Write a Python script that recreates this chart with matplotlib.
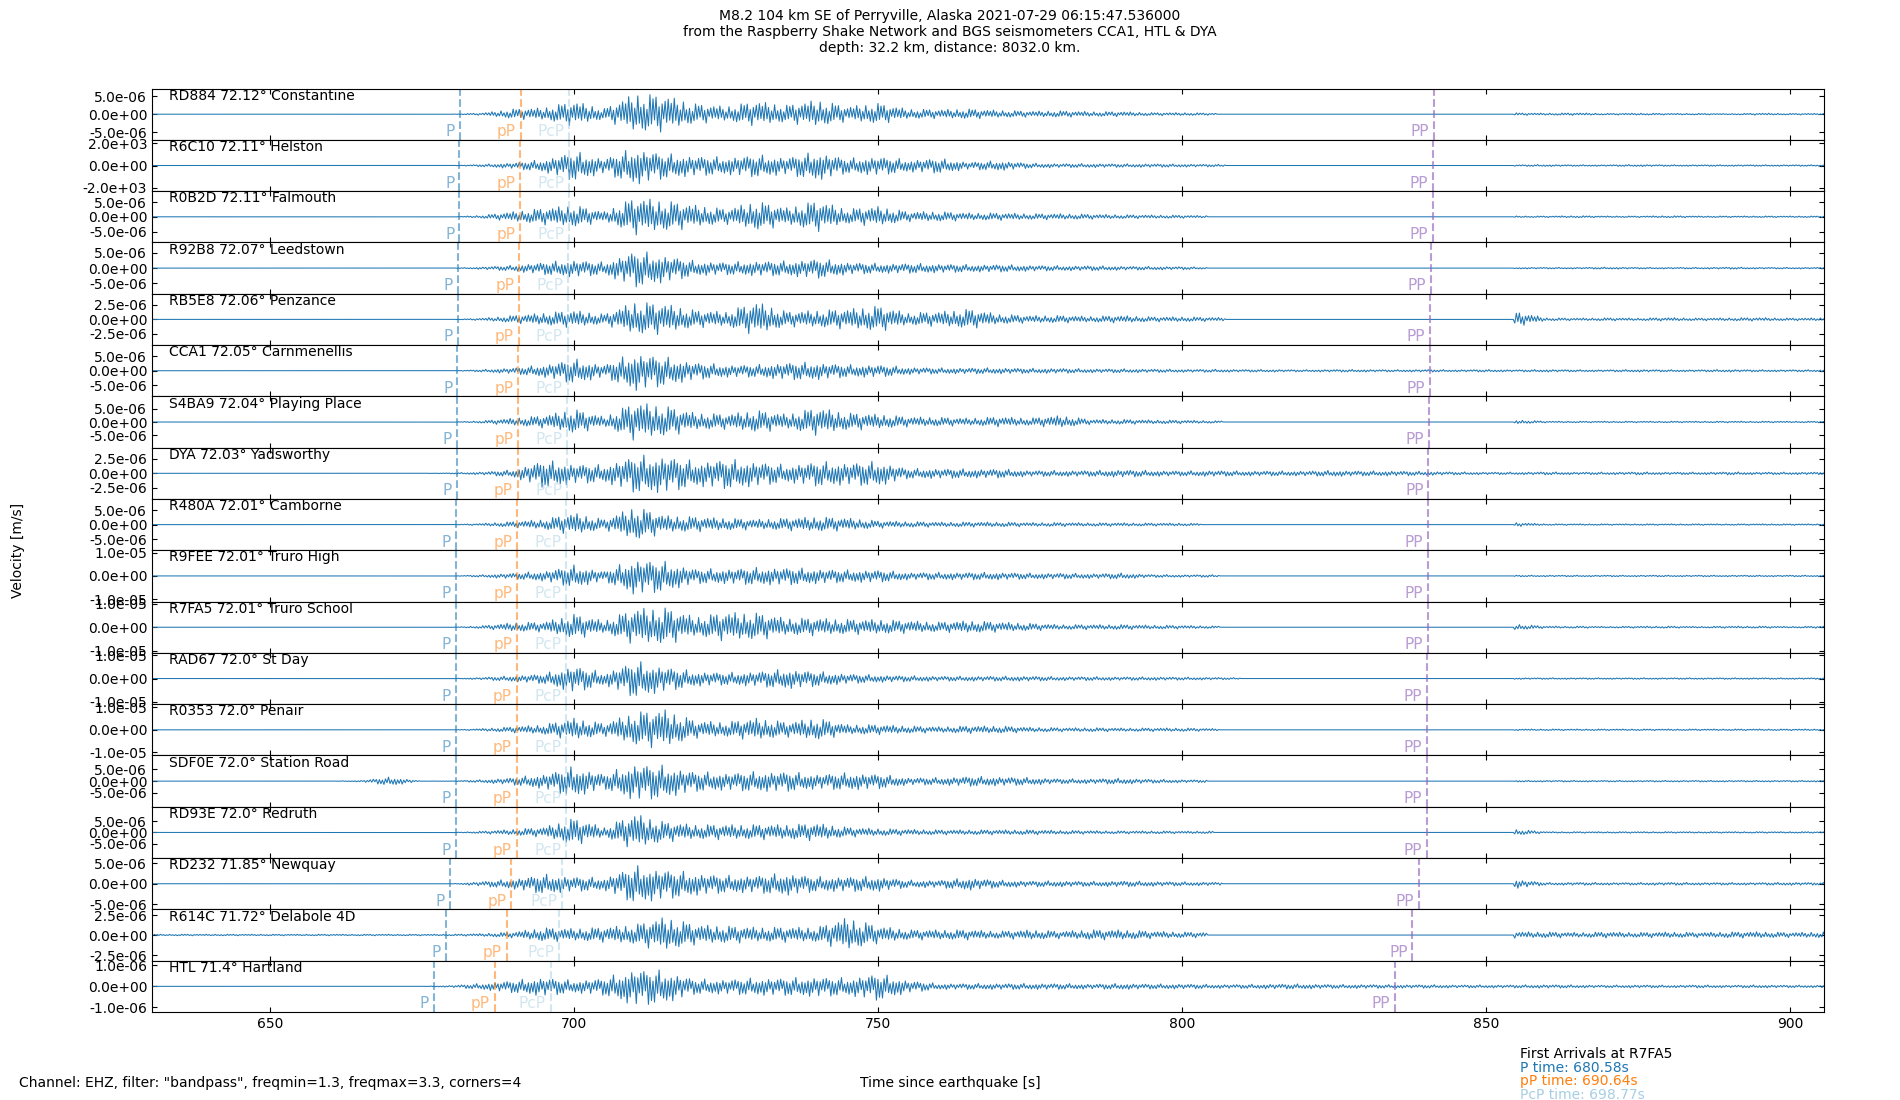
import numpy as np
import matplotlib
matplotlib.use("Agg")
import matplotlib.pyplot as plt

# station data, top to bottom
stations = ["RD884", "R6C10", "R0B2D", "R92B8", "RB5E8", "CCA1", "S4BA9", "DYA", "R480A",
            "R9FEE", "R7FA5", "RAD67", "R0353", "SDF0E", "RD93E", "RD232", "R614C", "HTL"]
dists = [72.12, 72.11, 72.11, 72.07, 72.06, 72.05, 72.04, 72.03, 72.01,
         72.01, 72.01, 72.0, 72.0, 72.0, 72.0, 71.85, 71.72, 71.4]
places = ["Constantine", "Helston", "Falmouth", "Leedstown", "Penzance", "Carnmenellis",
          "Playing Place", "Yadsworthy", "Camborne", "Truro High", "Truro School", "St Day",
          "Penair", "Station Road", "Redruth", "Newquay", "Delabole 4D", "Hartland"]

# arrival times [s]
p_times = [681.20, 681.14, 681.14, 680.92, 680.86, 680.80, 680.75, 680.69, 680.58,
           680.58, 680.58, 680.52, 680.52, 680.52, 680.52, 679.63, 678.91, 676.95]
pP_times = [691.26, 691.20, 691.20, 690.98, 690.92, 690.86, 690.81, 690.75, 690.64,
            690.64, 690.64, 690.58, 690.58, 690.58, 690.58, 689.69, 688.97, 687.00]
pcp_times = [699.23, 699.19, 699.19, 699.02, 698.98, 698.94, 698.90, 698.85, 698.77,
             698.77, 698.77, 698.73, 698.73, 698.73, 698.73, 698.10, 697.55, 696.20]
PP_times = [841.4, 841.3, 841.3, 840.95, 840.85, 840.75, 840.65, 840.55, 840.4,
            840.4, 840.4, 840.3, 840.3, 840.3, 840.3, 839.0, 837.9, 835.1]

# y axis: tick value and half range per panel
tick_vals = [5e-6, 2e3, 5e-6, 5e-6, 2.5e-6, 5e-6, 5e-6, 2.5e-6, 5e-6,
             1e-5, 1e-5, 1e-5, 1e-5, 5e-6, 5e-6, 5e-6, 2.5e-6, 1e-6]
y_max = [7.2e-6, 2.33e3, 8.7e-6, 8.4e-6, 4.4e-6, 8.9e-6, 9.6e-6, 4.4e-6, 8.9e-6,
         1.1e-5, 1.1e-5, 1.1e-5, 1.14e-5, 1.1e-5, 1.15e-5, 6.2e-6, 3.2e-6, 1.23e-6]

# data gaps (start, end) in s, None = continuous record
gaps = [(805.5, 854.7), (807, 854.7), (804, 854.7), (804, 854.7), (807, 854.7), None,
        (806.7, 854.7), None, (803, 854.7), (806, 854.7), (806, 854.7), (809.5, 854.7),
        (806, 854.7), (804, 854.7), (805, 854.7), (806.7, 854.7), (804, 854.7), None]

# amplitude envelopes (fraction of panel range), every 5 s from 630 s to 905 s
env_times = np.arange(630, 906, 5)
Z10 = [0] * 10
Z8 = [0] * 8
envelopes = [
    Z10 + [0, .05, .2, .25, .5, .22, .8, .72, .4, .3, .5, .35, .55, .3, .42, .2, .18, .2, .15, .12, .13, .1, .1, .06, .06, .04, .02]
    + Z8 + [.05, .04, .05, .03, .04, .03, .03, .02, .04, .03, .03],
    Z10 + [0, .05, .12, .25, .6, .3, .75, .5, .4, .35, .45, .35, .58, .3, .38, .25, .3, .15, .2, .1, .08, .08, .07, .07, .06, .05, .04]
    + Z8 + [.03, .04, .03, .03, .04, .03, .03, .03, .03, .03, .03],
    Z10 + [0, .06, .2, .33, .45, .2, .75, .62, .45, .3, .6, .35, .62, .3, .4, .2, .2, .15, .15, .12, .12, .1, .08, .07, .06, .04, 0]
    + Z8 + [.03, .03, .04, .03, .03, .04, .03, .03, .03, .03, .03],
    Z10 + [0, .05, .12, .25, .35, .25, .74, .55, .3, .25, .3, .3, .4, .25, .2, .2, .18, .15, .15, .12, .1, .1, .08, .07, .06, .03, 0]
    + Z8 + [.03, .03, .03, .04, .03, .03, .03, .04, .03, .03, .03],
    Z10 + [0, .05, .15, .25, .35, .2, .68, .6, .35, .3, .68, .3, .35, .4, .52, .25, .3, .4, .2, .15, .15, .12, .15, .1, .1, .08, .05]
    + Z8 + [.3, .06, .05, .06, .05, .07, .05, .06, .07, .05, .06],
    Z10 + [0, .05, .12, .25, .5, .25, .78, .58, .35, .25, .25, .35, .35, .25, .25, .15, .12, .12, .12, .1, .1, .08, .08, .07, .06, .06, .05]
    + [.05, .04, .05, .05, .04, .05, .04, .05] + [.04, .05, .04, .04, .05, .04, .04, .05, .04, .04, .04],
    Z10 + [0, .05, .15, .25, .5, .2, .77, .62, .35, .3, .45, .3, .56, .35, .3, .2, .18, .15, .2, .15, .25, .1, .1, .08, .07, .05, .02]
    + Z8 + [.08, .03, .03, .03, .03, .03, .03, .03, .03, .03, .03],
    Z10 + [.02, .06, .15, .56, .4, .35, .75, .75, .5, .6, .5, .35, .5, .45, .5, .2, .2, .18, .18, .12, .12, .12, .15, .12, .1, .12, .1]
    + [.1, .1, .12, .1, .1, .08, .06, .05] + [.05, .06, .05, .05, .06, .05, .05, .06, .05, .05, .05],
    Z10 + [0, .05, .12, .2, .45, .2, .7, .35, .3, .25, .2, .25, .3, .25, .15, .12, .1, .1, .1, .08, .08, .07, .07, .06, .06, .03, 0]
    + Z8 + [.08, .03, .03, .03, .03, .03, .03, .03, .03, .03, .03],
    Z10 + [0, .05, .12, .2, .45, .2, .73, .6, .3, .3, .35, .35, .3, .25, .25, .15, .15, .15, .15, .12, .12, .1, .12, .06, .05, .05, 0]
    + Z8 + [.03, .03, .03, .03, .03, .03, .03, .03, .03, .03, .03],
    Z10 + [0, .06, .18, .2, .5, .25, .73, .75, .4, .58, .55, .35, .35, .3, .3, .25, .2, .25, .2, .15, .1, .1, .1, .08, .07, .05, 0]
    + Z8 + [.12, .04, .04, .03, .04, .04, .03, .04, .04, .03, .04],
    Z10 + [0, .05, .12, .2, .55, .25, .74, .5, .3, .25, .3, .4, .3, .2, .15, .12, .1, .1, .1, .1, .08, .08, .07, .07, .06, .05, .03]
    + Z8 + [.03, .03, .03, .03, .03, .03, .03, .03, .03, .03, .03],
    Z10 + [0, .05, .12, .2, .45, .25, .68, .78, .35, .3, .45, .3, .45, .2, .2, .15, .12, .15, .15, .1, .08, .08, .07, .07, .07, .05, 0]
    + Z8 + [.03, .03, .03, .03, .03, .03, .03, .03, .03, .03, .03],
    [0, 0, 0, 0, 0, 0, 0, .03, .18, 0] + [.01, .06, .15, .3, .62, .3, .75, .65, .4, .35, .4, .4, .3, .35, .3, .15, .15, .2, .18, .15, .1, .1, .12, .08, .06, .05, 0]
    + Z8 + [.03, .03, .03, .03, .03, .03, .03, .03, .03, .03, .03],
    Z10 + [0, .05, .12, .2, .55, .2, .72, .4, .3, .3, .3, .3, .35, .2, .15, .12, .1, .1, .1, .1, .08, .07, .06, .06, .05, .05, 0]
    + Z8 + [.12, .03, .03, .03, .03, .03, .03, .03, .03, .03, .03],
    Z10 + [0, .1, .2, .4, .3, .25, .76, .6, .45, .35, .35, .45, .3, .3, .3, .15, .15, .25, .15, .12, .12, .1, .12, .1, .08, .07, 0]
    + Z8 + [.18, .05, .06, .05, .05, .06, .05, .05, .05, .06, .05],
    [.03] * 10 + [.03, .06, .12, .28, .25, .3, .4, .7, .4, .35, .3, .3, .3, .68, .35, .2, .2, .2, .15, .2, .15, .2, .2, .15, .12, .1, 0]
    + Z8 + [.13, .12, .1, .12, .1, .12, .1, .12, .13, .1, .12],
    Z10 + [.04, .13, .25, .38, .25, .35, .75, .65, .3, .3, .35, .35, .4, .35, .55, .25, .12, .12, .12, .12, .12, .1, .12, .1, .1, .08, .08]
    + [.1, .1, .08, .08, .07, .07, .06, .06] + [.06, .07, .06, .05, .06, .05, .06, .05, .06, .05, .05],
]

# relative peak heights of successive swings drawn under the envelope
wiggle = [1.0, 0.5, 0.8, 0.3, 0.9, 0.6, 0.4, 0.95, 0.55, 0.25, 0.7, 0.45,
          0.85, 0.35, 0.65, 0.55, 1.0, 0.4, 0.6, 0.75, 0.3, 0.5, 0.9, 0.45,
          0.35, 0.7, 0.5, 0.8, 0.25, 0.6]

first_station = "R7FA5"
first_arrivals = [("P time: 680.58s", "#1f77b4"), ("pP time: 690.64s", "#ff7f0e"),
                  ("PcP time: 698.77s", "#a6cee3")]

fig, axs = plt.subplots(len(stations), 1, figsize=(19, 11), dpi=100, sharex=True,
                        gridspec_kw=dict(hspace=0))
fig.subplots_adjust(left=0.08, right=0.96, top=0.9195, bottom=0.08)

t = np.arange(630.0, 906.0, 0.25)
sign = np.where(np.arange(len(t)) % 2 == 0, 1.0, -1.0)

for i, ax in enumerate(axs):
    env = np.interp(t, env_times, envelopes[i])
    if gaps[i] is not None:
        env[(t > gaps[i][0]) & (t < gaps[i][1])] = 0
    shape = np.resize(np.roll(wiggle, 7 * i), len(t))
    ax.plot(t, sign * shape * env * y_max[i], color="#1f77b4", lw=0.75)

    ax.set_ylim(-y_max[i], y_max[i])
    ax.set_yticks([-tick_vals[i], 0, tick_vals[i]])
    ax.yaxis.set_major_formatter(plt.FormatStrFormatter("%.1e"))
    ax.tick_params(axis="both", direction="in", top=True, right=True, labelsize=10)

    ax.text(0.01, 0.86, f"{stations[i]} {dists[i]}° {places[i]}", transform=ax.transAxes,
            va="center", fontsize=10)

    tr = ax.get_xaxis_transform()
    for tt, lab, col, al in [(p_times[i], "P", "#1f77b4", 0.55),
                             (pP_times[i], "pP", "#ff7f0e", 0.55),
                             (pcp_times[i], "PcP", "#a6cee3", 0.5),
                             (PP_times[i], "PP", "#9467bd", 0.65)]:
        ax.axvline(tt, color=col, alpha=al, ls="--", lw=1.5)
        ax.text(tt - 0.8, 0.07, lab, transform=tr, ha="right", va="baseline",
                color=col, alpha=al, fontsize=11)

axs[-1].set_xlim(630.6, 905.6)
axs[-1].set_xticks([650, 700, 750, 800, 850, 900])

fig.text(0.5, 0.992, "M8.2 104 km SE of Perryville, Alaska 2021-07-29 06:15:47.536000\n"
         "from the Raspberry Shake Network and BGS seismometers CCA1, HTL & DYA\n"
         "depth: 32.2 km, distance: 8032.0 km.", ha="center", va="top", fontsize=10)
fig.text(0.0095, 0.5, "Velocity [m/s]", rotation=90, ha="center", va="center", fontsize=10)
fig.text(0.5, 0.015, "Time since earthquake [s]", ha="center", va="center", fontsize=10)
fig.text(0.01, 0.015, 'Channel: EHZ, filter: "bandpass", freqmin=1.3, freqmax=3.3, corners=4',
         ha="left", va="center", fontsize=10)
fig.text(0.8, 0.042, f"First Arrivals at {first_station}", ha="left", va="center", fontsize=10)
for k, (txt, col) in enumerate(first_arrivals):
    fig.text(0.8, 0.0295 - 0.0125 * k, txt, color=col, ha="left", va="center", fontsize=10)

fig.savefig("out.png", dpi=100)
